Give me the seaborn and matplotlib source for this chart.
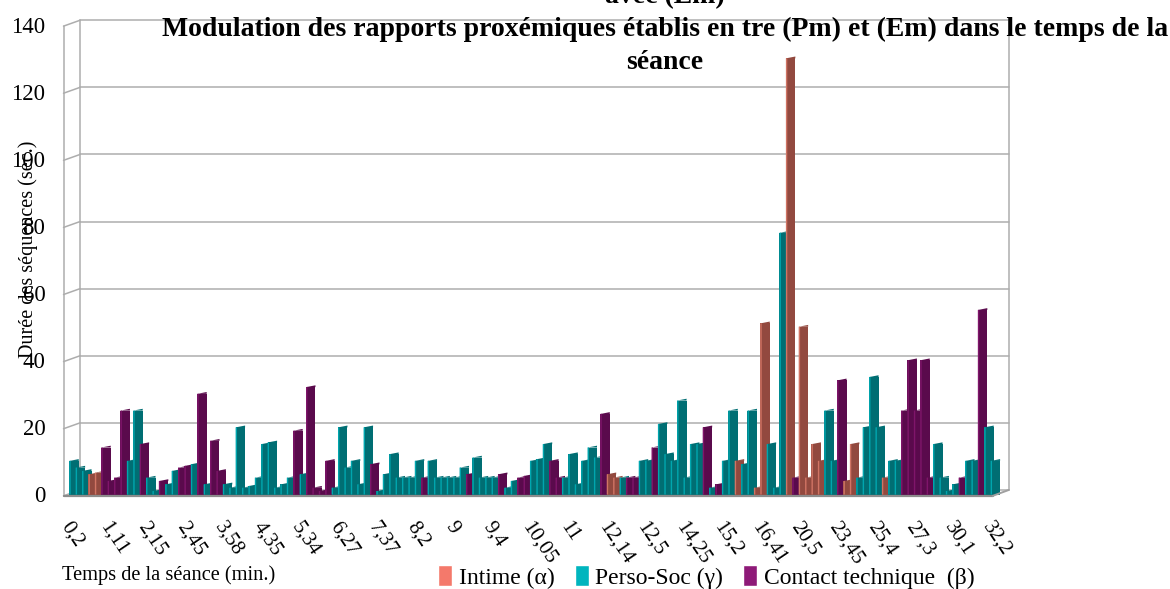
import matplotlib
matplotlib.use("Agg")
import matplotlib.pyplot as plt
from matplotlib.patches import Patch, Polygon
from matplotlib.transforms import ScaledTranslation
import seaborn as sns
import pandas as pd

# --- data ---
tick_labels = ["0,2", "1,11", "2,15", "2,45", "3,58", "4,35", "5,34", "6,27", "7,37", "8,2", "9", "9,4",
               "10,05", "11", "12,14", "12,5", "14,25", "15,2", "16,41", "20,5", "23,45", "25,4", "27,3",
               "30,1", "32,2"]
durations = [10, 8, 7, 6, 6.5, 14, 4, 5, 25, 10, 25, 15, 5, 1, 4, 3, 7, 8, 8.5, 9, 30, 3, 16, 7, 3,
             2, 20, 2, 2.5, 5, 15, 15.5, 2, 3, 5, 19, 6, 32, 2, 1, 10, 2, 20, 8, 10, 3, 20, 9, 1, 6,
             12, 5, 5, 5, 10, 5, 10, 5, 5, 5, 5, 8, 6, 11, 5, 5, 5, 6, 2, 4, 5, 5.5, 10, 10.5, 15,
             10, 5, 5, 12, 3, 10, 14, 11, 24, 6, 5, 5, 5, 5, 10, 10, 14, 21, 12, 10, 28, 5, 15, 15, 20,
             2, 3, 10, 25, 10, 9, 25, 2, 51, 15, 2, 78, 130, 5, 50, 5, 15, 10, 25, 10, 34, 4, 15, 5, 20,
             35, 20, 5, 10, 10, 25, 40, 25, 40, 5, 15, 5, 1, 3, 5, 10, 10, 55, 20, 10]
kinds = list("".join([
    "PPP", "II", "CCCC", "PP", "C", "PP", "C", "PP", "CC", "P", "C", "P", "CC",
    "PPPPPPPPPPP", "C", "P", "CCCC", "PPPPPP", "C", "PPPPPPP", "C", "PPPPPP", "C",
    "PPPP", "C", "PP", "CC", "PPP", "CC", "PPPPPP", "C", "II", "P", "CC", "PP", "C",
    "PPPPPPP", "C", "P", "C", "PP", "I", "PP", "II", "PPP", "I", "C", "IIII", "PP", "C",
    "II", "PPPP", "I", "PP", "CCCCC", "PPPP", "C", "PP", "C", "PP"]))
series_names = {"I": "Intime (α)", "P": "Perso-Soc (γ)", "C": "Contact technique  (β)"}
face_colors = {"I": "#92493F", "P": "#006E73", "C": "#5A0A4C"}
edge_colors = {"I": "#D07464", "P": "#00A6AE", "C": "#7F156A"}
legend_colors = {"I": "#F4796B", "P": "#00B5BE", "C": "#8E1A78"}

df = pd.DataFrame({"pos": range(len(durations)), "val": durations, "kind": kinds})

sns.set_style("white")
plt.rcParams["font.family"] = ["Liberation Serif", "DejaVu Serif"]
plt.rcParams["text.color"] = "black"
plt.rcParams["xtick.color"] = "black"
plt.rcParams["ytick.color"] = "black"
plt.rcParams["axes.titlecolor"] = "black"

W, H = 1170, 589
fig = plt.figure(figsize=(W / 100, H / 100), dpi=100)
px0, px1, py_top, py_bot = 63.5, 1012.0, 24.8, 494.5
ax = fig.add_axes([px0 / W, 1 - py_bot / H, (px1 - px0) / W, (py_bot - py_top) / H])

BW = 1.48
sns.barplot(data=df, x="pos", y="val", hue="kind", dodge=False, width=BW, saturation=1,
            palette=face_colors, order=list(range(len(durations))),
            hue_order=["I", "P", "C"], legend=False, ax=ax)
ax.set_xlim(-1.64, 146.6)
ax.set_ylim(0, 140)
sns.despine(ax=ax, left=True, bottom=True)

# per-bar 3D details; later bars sit over earlier ones
for p in list(ax.patches):
    w = p.get_width()
    x = p.get_x()
    v = p.get_height()
    if not v > 0:
        continue
    idx = int(round(x + w / 2))
    k = kinds[idx]
    z = 5 + idx * 0.01
    p.set_zorder(z)
    p.set_linewidth(0)
    ax.add_patch(Polygon([(x, v), (x + w, v + 0.55), (x + w, v)], closed=True, fc=face_colors[k],
                         ec="none", zorder=z, clip_on=False))
    ax.add_patch(Polygon([(x, 0), (x, v), (x + 0.22, v + 0.08), (x + 0.22, 0)], closed=True,
                         fc=edge_colors[k], ec="none", zorder=z + 0.001, clip_on=False))

# walls and floor, in data units of the axes
grid_c = "#ADADAD"
yticks = [0, 20, 40, 60, 80, 100, 120, 140]
unit_x = 6.4
x_front = -1.64
x_back = x_front + (80 - 63.5) / unit_x
x_right = x_front + (1009 - 63.5) / unit_x
x_front_r = x_right - 16 / unit_x
dy = 1.35
for v in yticks:
    ax.plot([x_back, x_right], [v + dy, v + dy], color=grid_c, lw=1.1, zorder=1, clip_on=False)
    ax.plot([x_front, x_back], [v - 0.4, v + dy], color=grid_c, lw=1.1, zorder=1, clip_on=False)
ax.plot([x_back, x_back], [dy, 140 + dy], color=grid_c, lw=1.1, zorder=1, clip_on=False)
ax.plot([x_front, x_front], [-0.4, 139.6], color=grid_c, lw=1.1, zorder=1, clip_on=False)
ax.plot([x_right, x_right], [dy, 140 + dy], color=grid_c, lw=1.1, zorder=1, clip_on=False)
ax.plot([x_front, x_front_r], [-0.4, -0.4], color="#8C8C8C", lw=1.6, zorder=9, clip_on=False)
ax.plot([x_front_r, x_right], [-0.4, dy], color="#A0A0A0", lw=1.4, zorder=9, clip_on=False)

ax.set_yticks(yticks)
ax.tick_params(axis="y", length=0, pad=13, labelsize=16.5)
ax.set_xticks(range(0, len(durations), 6))
ax.set_xticklabels(tick_labels, rotation=-56, ha="left", va="top", rotation_mode="anchor", fontsize=15)
ax.tick_params(axis="x", length=0, pad=17)
off = ScaledTranslation(-1 / 100, 0, fig.dpi_scale_trans)
for t in ax.get_xticklabels():
    t.set_transform(t.get_transform() + off)

ax.set_xlabel("")
ax.set_ylabel("")
fig.text(28 / W, 1 - 249 / H, "Durée des séquences (sec.)", rotation=90, ha="center", va="center", fontsize=14.5)
fig.text(62 / W, 1 - 575 / H, "Temps de la séance (min.)", ha="left", va="center", fontsize=14.7)

ax.set_title("avec (Em)\nModulation des rapports proxémiques établis en tre (Pm) et (Em) dans le temps de la\nséance",
             fontsize=19.95, fontweight="bold", linespacing=1.4, x=(665 - px0) / (px1 - px0),
             y=(py_bot - 83) / (py_bot - py_top), va="bottom", ha="center")

handles = [Patch(fc=legend_colors[k], label=series_names[k]) for k in ["I", "P", "C"]]
fig.legend(handles=handles, loc="center left", bbox_to_anchor=(438 / W, 1 - 577 / H), ncol=3, frameon=False,
           fontsize=17, handlelength=0.6, handleheight=1.0, handletextpad=0.28, columnspacing=0.85,
           borderpad=0, borderaxespad=0)

fig.savefig("out.png", dpi=100)
